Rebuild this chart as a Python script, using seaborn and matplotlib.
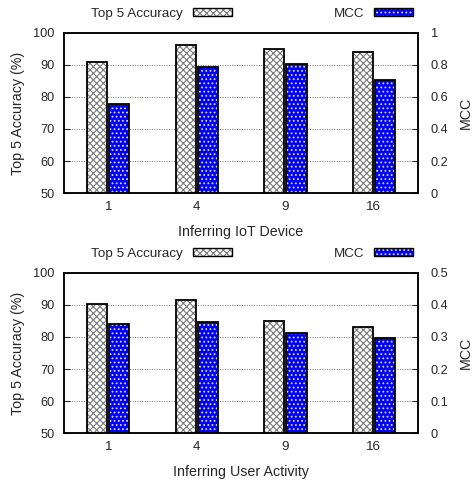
import numpy as np
import pandas as pd
import matplotlib.pyplot as plt
import seaborn as sns
from matplotlib.patches import Patch, Rectangle

# values
groups = ["1", "4", "9", "16"]
series = ["Top 5 Accuracy", "MCC"]

acc_iot = [90.8, 96.3, 95.0, 94.0]
mcc_iot = [0.555, 0.79, 0.805, 0.705]

acc_act = [90.4, 91.7, 85.0, 83.2]
mcc_act = [0.342, 0.347, 0.311, 0.298]

acc_ticks = [50, 60, 70, 80, 90, 100]
mcc_ticks_iot = [0, 0.2, 0.4, 0.6, 0.8, 1]
mcc_ticks_act = [0, 0.1, 0.2, 0.3, 0.4, 0.5]

BLUE = "#0000f0"

sns.set_style("white")
plt.rcParams["font.family"] = ["Liberation Sans", "DejaVu Sans"]
plt.rcParams["hatch.linewidth"] = 0.8


def make_df(acc, mcc):
    rows = []
    for g, a, m in zip(groups, acc, mcc):
        rows.append({"n": g, "series": "Top 5 Accuracy", "acc": a, "mcc": np.nan})
        rows.append({"n": g, "series": "MCC", "acc": np.nan, "mcc": m})
    return pd.DataFrame(rows)


def outline(ax):
    # black border on top of the hatched bars
    for p in list(ax.patches):
        if p.get_height() > 0:
            ax.add_patch(Rectangle(p.get_xy(), p.get_width(), p.get_height(),
                                   fill=False, ec="black", lw=1.3, zorder=3))


def panel(ax, acc, mcc, mcc_ticks, xlabel):
    df = make_df(acc, mcc)
    pal = {"Top 5 Accuracy": "white", "MCC": BLUE}
    sns.barplot(data=df, x="n", y="acc", hue="series", hue_order=series,
                order=groups, palette=pal, width=0.5, gap=0.08,
                legend=False, ax=ax, saturation=1)
    for p in ax.patches:
        p.set_facecolor("white")
        p.set_edgecolor("#7a7a7a")
        p.set_hatch("xxxxx")
        p.set_linewidth(0)
    outline(ax)

    ax2 = ax.twinx()
    sns.barplot(data=df, x="n", y="mcc", hue="series", hue_order=series,
                order=groups, palette=pal, width=0.5, gap=0.08,
                legend=False, ax=ax2, saturation=1)
    for p in ax2.patches:
        p.set_facecolor(BLUE)
        p.set_edgecolor("#d8d8ff")
        p.set_hatch("....")
        p.set_linewidth(0)
    outline(ax2)

    for a in (ax, ax2):
        a.set_xlim(-0.5, 3.5)
        for s in a.spines.values():
            s.set_color("black")
            s.set_linewidth(1.1)

    ax.set_ylim(50, 100)
    ax.set_yticks(acc_ticks)
    ax2.set_ylim(mcc_ticks[0], mcc_ticks[-1])
    ax2.set_yticks(mcc_ticks)
    ax2.set_yticklabels([f"{t:g}" for t in mcc_ticks])

    ax.grid(axis="y", linestyle=(0, (1, 1.5)), color="#707070", lw=0.7)
    ax.set_axisbelow(True)

    ax.tick_params(axis="x", length=0, pad=6, labelsize=9.6)
    ax.tick_params(axis="y", direction="in", length=4, width=0.8, pad=7, labelsize=9.2)
    ax2.tick_params(axis="y", direction="in", length=4, width=0.8, pad=9, labelsize=9.2)

    ax.set_xlabel(xlabel, fontsize=10.3)
    ax.xaxis.set_label_coords(0.5, -0.2)
    ax.set_ylabel("Top 5 Accuracy (%)", fontsize=10.3)
    ax.yaxis.set_label_coords(-0.11, 0.5)
    ax2.set_ylabel("MCC", fontsize=10.3)
    ax2.yaxis.set_label_coords(1.115, 0.5)
    ax2.set_xlabel("")

    h_acc = (Patch(facecolor="white", edgecolor="#7a7a7a", hatch="xxxxx", lw=0),
             Patch(fill=False, edgecolor="black", lw=1.0))
    h_mcc = (Patch(facecolor=BLUE, edgecolor="#d8d8ff", hatch="....", lw=0),
             Patch(fill=False, edgecolor="black", lw=1.0))
    kw = dict(frameon=False, markerfirst=False, fontsize=9.7, handlelength=2.9,
              handleheight=0.45, handletextpad=0.75, borderpad=0, borderaxespad=0)
    leg1 = ax2.legend([h_acc], ["Top 5 Accuracy"], loc="center right",
                      bbox_to_anchor=(0.475, 1.12), **kw)
    ax2.add_artist(leg1)
    ax2.legend([h_mcc], ["MCC"], loc="center right",
               bbox_to_anchor=(0.986, 1.12), **kw)


fig = plt.figure(figsize=(4.74, 4.83), dpi=100)
ax_top = fig.add_axes([0.135, 0.6004, 0.747, 0.3313])
ax_bot = fig.add_axes([0.135, 0.1035, 0.747, 0.3313])

panel(ax_top, acc_iot, mcc_iot, mcc_ticks_iot, "Inferring IoT Device")
panel(ax_bot, acc_act, mcc_act, mcc_ticks_act, "Inferring User Activity")

fig.savefig("out.png", dpi=100, facecolor="white")
